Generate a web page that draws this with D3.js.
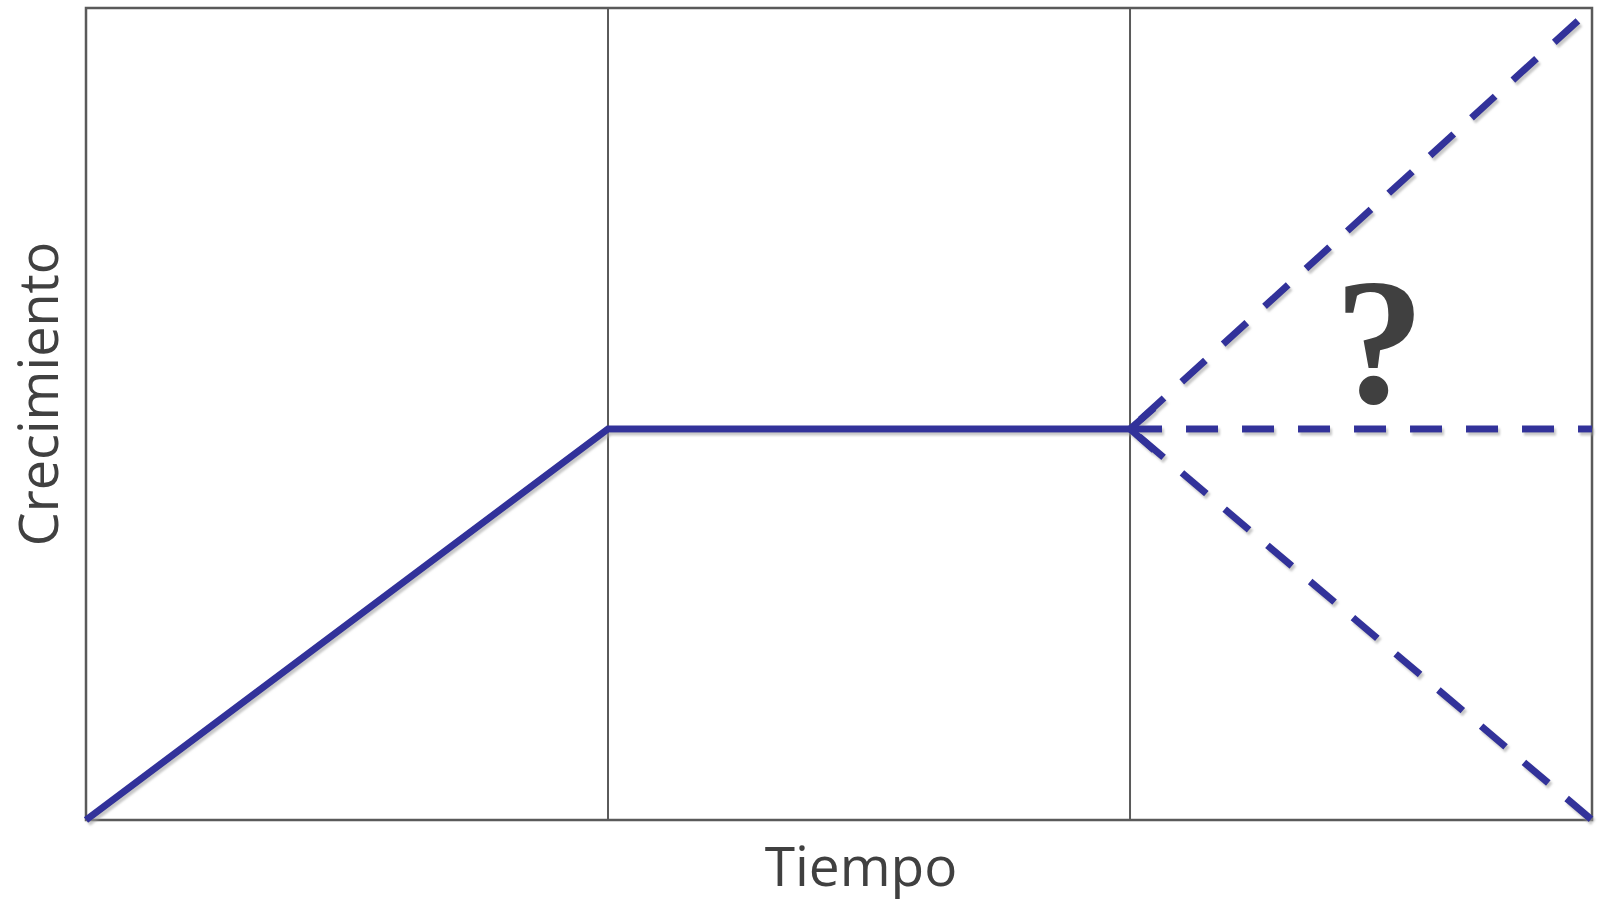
<!DOCTYPE html>
<html>
<head>
<meta charset="utf-8">
<script src="https://cdn.jsdelivr.net/npm/d3@7"></script>
<style>
  html, body { margin: 0; padding: 0; background: #fff; }
  svg { display: block; }
</style>
</head>
<body>
<svg id="chart" width="1598" height="903"></svg>
<script>
// ---- data ----
const xLabel = "Tiempo";
const yLabel = "Crecimiento";
const xMax = 2.885;                 // right edge of the plot (time units)
const dividers = [1, 2];            // vertical separators
const solidSeries = [[0, 0], [1, 0.4815], [2, 0.4815]];
const upSeries = [[2, 0.4815], [2.885, 1]];
const flatSeries = [[2, 0.4815], [2.885, 0.4815]];
const downSeries = [[2, 0.4815], [2.885, 0]];
const questionLabel = "?";
const questionPos = [2.478, 0.515];

// ---- layout ----
const W = 1598, H = 903;
const m = { left: 86, top: 8, right: 6, bottom: 83 };
const svg = d3.select("#chart");
const x = d3.scaleLinear().domain([0, xMax]).range([m.left, W - m.right]);
const y = d3.scaleLinear().domain([0, 1]).range([H - m.bottom, m.top]);

const lineColor = "#31319a";
const gridColor = "#5a5a5a";
const textColor = "#404040";

const defs = svg.append("defs");
const f = defs.append("filter").attr("id", "shadow")
  .attr("x", "-10%").attr("y", "-10%").attr("width", "120%").attr("height", "120%");
f.append("feDropShadow").attr("dx", 2).attr("dy", 3).attr("stdDeviation", 0.8)
  .attr("flood-color", "#9a9a9a").attr("flood-opacity", 0.55);

defs.append("marker").attr("id", "chev")
  .attr("markerUnits", "userSpaceOnUse")
  .attr("viewBox", "-30 -30 60 60")
  .attr("markerWidth", 60).attr("markerHeight", 60)
  .attr("refX", 0).attr("refY", 0)
  .attr("orient", "0")
  .append("path")
  .attr("d", "M24,-21 L0,0 L24,21")
  .attr("fill", "none").attr("stroke", lineColor)
  .attr("stroke-width", 7).attr("stroke-linejoin", "miter");

// plot border
svg.append("rect")
  .attr("x", x(0)).attr("y", y(1))
  .attr("width", x(xMax) - x(0)).attr("height", y(0) - y(1))
  .attr("fill", "none").attr("stroke", gridColor).attr("stroke-width", 2.5);

// dividers
svg.selectAll("line.div").data(dividers).enter().append("line")
  .attr("class", "div")
  .attr("x1", d => x(d)).attr("x2", d => x(d))
  .attr("y1", y(1)).attr("y2", y(0))
  .attr("stroke", gridColor).attr("stroke-width", 2);

const line = d3.line().x(d => x(d[0])).y(d => y(d[1]));
const g = svg.append("g").attr("filter", "url(#shadow)");

g.append("path").datum(solidSeries).attr("d", line)
  .attr("fill", "none").attr("stroke", lineColor).attr("stroke-width", 7)
  .attr("stroke-linejoin", "miter");

g.append("path").datum(upSeries).attr("d", line)
  .attr("fill", "none").attr("stroke", lineColor).attr("stroke-width", 7)
  .attr("stroke-dasharray", "32 24").attr("stroke-dashoffset", -14);
g.append("path").datum(downSeries).attr("d", line)
  .attr("fill", "none").attr("stroke", lineColor).attr("stroke-width", 7)
  .attr("stroke-dasharray", "32 24").attr("stroke-dashoffset", -12);
g.append("path").datum(flatSeries).attr("d", line)
  .attr("fill", "none").attr("stroke", lineColor).attr("stroke-width", 7)
  .attr("stroke-dasharray", "32 24")
  .attr("marker-start", "url(#chev)");

// question mark
svg.append("text")
  .attr("x", x(questionPos[0])).attr("y", y(questionPos[1]))
  .attr("text-anchor", "middle")
  .attr("font-family", "Liberation Serif, serif")
  .attr("font-weight", "bold")
  .attr("font-size", 180)
  .attr("fill", textColor)
  .text(questionLabel);

// axis labels
svg.append("text")
  .attr("x", 861).attr("y", 886)
  .attr("text-anchor", "middle")
  .attr("font-family", "Open Sans, sans-serif")
  .attr("font-size", 55)
  .attr("fill", textColor)
  .text(xLabel);

svg.append("text")
  .attr("transform", "translate(58,394) rotate(-90)")
  .attr("text-anchor", "middle")
  .attr("font-family", "Open Sans, sans-serif")
  .attr("font-size", 54)
  .attr("fill", textColor)
  .text(yLabel);
</script>
</body>
</html>
